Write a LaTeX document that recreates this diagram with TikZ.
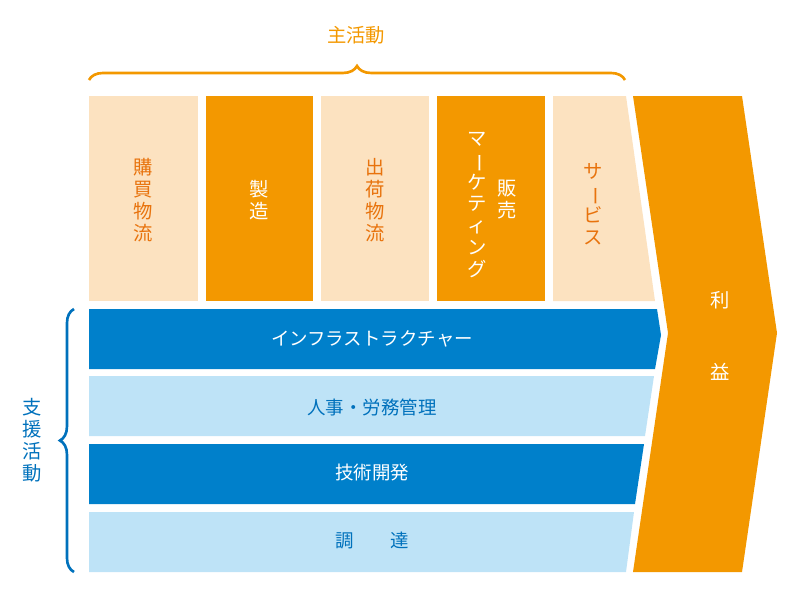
\documentclass[tikz,border=0pt]{standalone}
\usepackage{fontspec}
\setmainfont{Noto Sans CJK JP}
\usetikzlibrary{decorations.pathreplacing}
\definecolor{orng}{HTML}{F39800}
\definecolor{lorng}{HTML}{FCE2C0}
\definecolor{torng}{HTML}{E8730D}
\definecolor{blu}{HTML}{0080CB}
\definecolor{lblu}{HTML}{BEE3F7}
\definecolor{tblu}{HTML}{0071BC}
\newcommand{\vbar}{\rotatebox[origin=c]{-90}{ー}}
\tikzset{%
  vt/.style={align=center,inner sep=0pt,font=\fontsize{11}{12.5}\selectfont},
  ht/.style={inner sep=0pt,font=\fontsize{10.5}{12}\selectfont},
  brc/.style={draw=orng,line width=1.5pt,decorate,decoration={brace,amplitude=8pt}}
}
\begin{document}
\begin{tikzpicture}[x=0.02cm,y=-0.02cm]
  \useasboundingbox (0,0) rectangle (800,600);
  % primary activities
  \fill[lorng] (89,96) rectangle (198,301);
  \fill[orng] (206,96) rectangle (313,301);
  \fill[lorng] (321,96) rectangle (429,301);
  \fill[orng] (437,96) rectangle (545,301);
  \fill[lorng] (553,96) -- (626,96) -- (655,301) -- (553,301) -- cycle;
  % margin
  \fill[orng] (633,96) -- (742,96) -- (777,333) -- (742,572) -- (633,572) -- (668,333) -- cycle;
  % support activities
  \fill[blu] (89,309) -- (657,309) -- (661,335) -- (655,369) -- (89,369) -- cycle;
  \fill[lblu] (89,376) -- (654,376) -- (645,436) -- (89,436) -- cycle;
  \fill[blu] (89,444) -- (644,444) -- (635,504) -- (89,504) -- cycle;
  \fill[lblu] (89,512) -- (634,512) -- (626,572) -- (89,572) -- cycle;
  \node[vt,text=torng] (inbound) at (143.5,200) {購\\買\\物\\流};
  \node[vt,text=white] (operations) at (259.5,200) {製\\造};
  \node[vt,text=torng] (outbound) at (375,200) {出\\荷\\物\\流};
  \node[vt,text=white] (marketing) at (477,205) {マ\\\vbar\\ケ\\テ\\ィ\\ン\\グ};
  \node[vt,text=white,anchor=north] (sales) at (507,180) {販\\売};
  \node[vt,text=torng] (service) at (593,204) {サ\\\vbar\\ビ\\ス};
  \node[ht,text=white] (infra) at (372,339) {インフラストラクチャー};
  \node[ht,text=tblu] (hrm) at (372,407) {人事・労務管理};
  \node[ht,text=white] (tech) at (372,473) {技術開発};
  \node[ht,text=tblu] (procure) at (372,541) {調\hspace{2em}達};
  \node[vt,text=white] (margin1) at (720,300) {利};
  \node[vt,text=white] (margin2) at (720,372) {益};
  % braces
  \coordinate (pl) at (89,80);
  \coordinate (pr) at (625,80);
  \draw[brc] (pl) -- (pr);
  \node[vt,text=orng] (primary) at (356,35) {主活動};
  \coordinate (sb) at (74,572);
  \coordinate (st) at (74,309);
  \draw[brc,draw=tblu] (sb) -- (st);
  \node[vt,text=tblu] (support) at (32,440) {支\\援\\活\\動};
\end{tikzpicture}
\end{document}
